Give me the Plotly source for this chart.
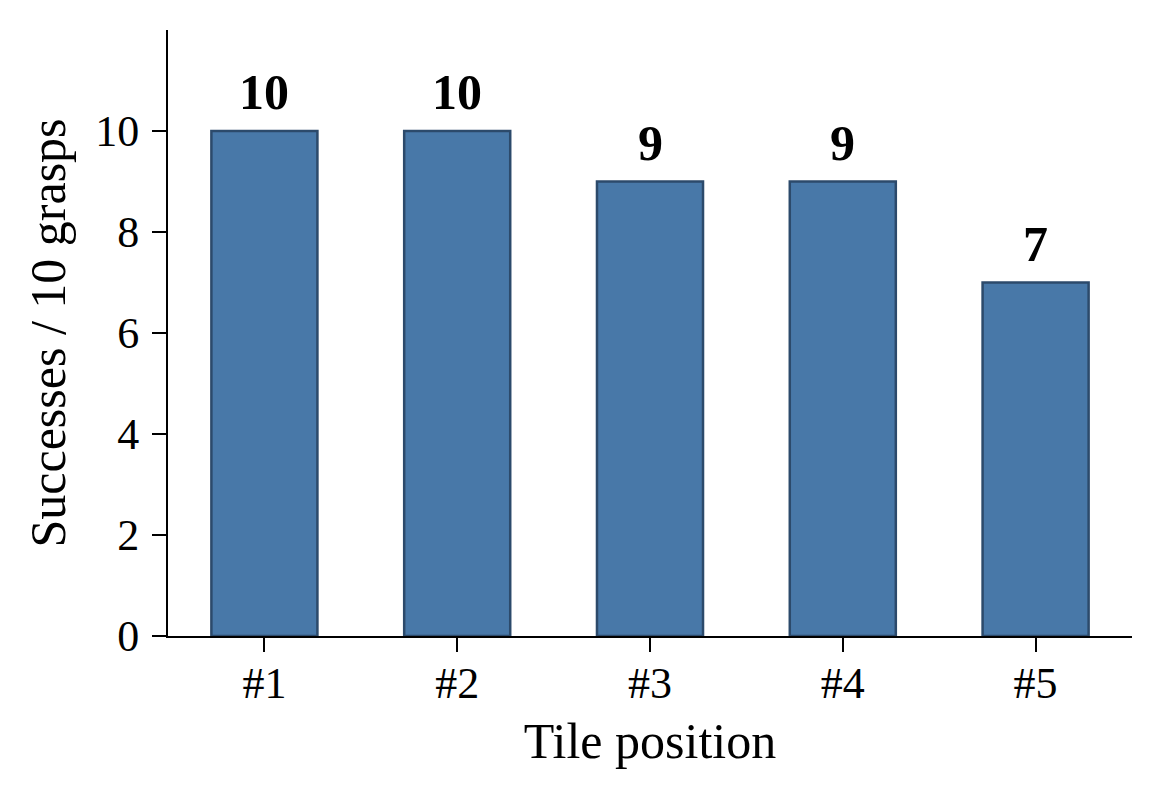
import plotly.graph_objects as go

# data
tiles = ['#1', '#2', '#3', '#4', '#5']
successes = [10, 10, 9, 9, 7]
y_ticks = [0, 2, 4, 6, 8, 10]

FONT = 'Liberation Serif, Times New Roman, serif'

fig = go.Figure()
fig.add_trace(go.Bar(
    x=tiles, y=successes, width=0.55,
    marker=dict(color='#4878a8', line=dict(color='#2c4a6b', width=2.5)),
))

# value labels above each bar
for t, v in zip(tiles, successes):
    fig.add_annotation(x=t, y=v, text='<b>%d</b>' % v, showarrow=False,
                       yanchor='bottom', yshift=9,
                       font=dict(family=FONT, size=50, color='black'))

# page body adds an 8px offset, margins compensate for it
fig.update_layout(
    width=1161, height=801,
    margin=dict(l=160, r=37, t=22, b=173),
    plot_bgcolor='white', paper_bgcolor='white',
    font=dict(family=FONT, size=44, color='black'),
    showlegend=False,
)
fig.update_xaxes(
    range=[-0.5, 4.5], showline=True, linecolor='black', linewidth=2,
    ticks='outside', ticklen=14, tickwidth=2, tickcolor='black',
    ticklabelstandoff=-7,
    showgrid=False, zeroline=False,
    title=dict(text='Tile position', font=dict(size=50), standoff=16),
)
fig.update_yaxes(
    range=[0, 12], tickvals=y_ticks, showline=True, linecolor='black', linewidth=2,
    ticks='outside', ticklen=14, tickwidth=2, tickcolor='black',
    ticklabelstandoff=4,
    showgrid=False, zeroline=False,
    title=dict(text='Successes / 10 grasps', font=dict(size=50), standoff=14),
)

fig.write_html("out.html")
